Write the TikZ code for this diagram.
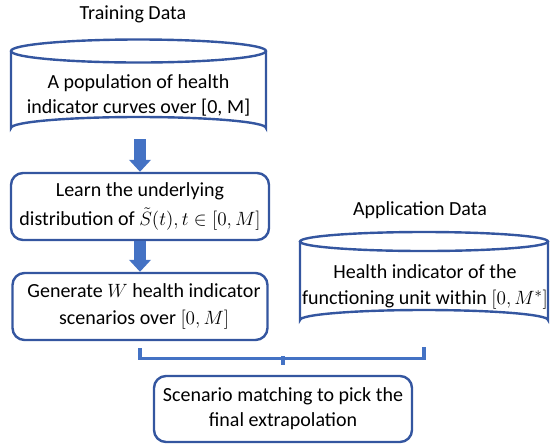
\documentclass[tikz,border=0pt]{standalone}
\usepackage{fontspec}
\setmainfont{Carlito}
\usetikzlibrary{arrows.meta,calc}

\definecolor{boxblue}{RGB}{52,86,160}
\definecolor{arrowblue}{RGB}{68,114,196}

\tikzset{every picture/.style={line width=0.75pt}}

\begin{document}
\begin{tikzpicture}[x=0.75pt,y=0.75pt,yscale=-1,xscale=1,
  cylline/.style={draw=boxblue,line width=1.8pt},
  roundbox/.style={draw=boxblue,line width=1.8pt,rounded corners=9pt,align=center,inner sep=0pt},
  plaintext/.style={align=center,inner sep=0pt},
  flowarrow/.style={draw=arrowblue,line width=9pt,-{Triangle[width=16pt,length=9pt]}},
  brace/.style={draw=arrowblue,line width=2.4pt}]
\useasboundingbox (0,0) rectangle (550,444);
\fontsize{15}{18.75}\selectfont

% Titles
\node[anchor=base] (traintitle) at (133,19) {Training Data};
\node[anchor=base] (apptitle) at (420,215) {Application Data};

% Training cylinder
\draw[cylline] (11,51) -- (11,128) arc[start angle=180, end angle=360, x radius=127.5, y radius=11] -- (266,51);
\draw[cylline] (138.5,51) ellipse [x radius=127.5, y radius=11.5];
\node[plaintext] (train) at (138.5,95) {A population of health\\indicator curves over [0, M]};
\coordinate (trainbot) at (140,139);

% Application cylinder
\draw[cylline] (300,241.5) -- (300,320) arc[start angle=180, end angle=360, x radius=124, y radius=10] -- (548,241.5);
\draw[cylline] (424,241.5) ellipse [x radius=124, y radius=9.5];
\node[plaintext] (app) at (425,287) {Health indicator of the\\[1pt]functioning unit within $[0,M^{*}]$};
\coordinate (appbot) at (424,330);

% Process boxes
\node[roundbox,minimum width=193.5pt,minimum height=50.25pt] (learn) at (140,206.5) {Learn the underlying\\[3pt]distribution of $\tilde{S}(t),t\in[0,M]$};
\node[roundbox,minimum width=191.25pt,minimum height=50.25pt] (gen) at (140,306.5) {\hspace{6pt}Generate $W$ health indicator\\[1pt]\hspace{6pt}scenarios over $[0,M]$};
\node[roundbox,minimum width=193.5pt,minimum height=49.5pt] (match) at (283,409) {Scenario matching to pick the\\final extrapolation};

% Connections
\draw[flowarrow] (trainbot) -- (learn.north);
\draw[flowarrow] (learn.south) -- (gen.north);

% Bracket
\draw[brace] ($(gen.south)+(0,7)$) -- ++(0,10) -| ($(appbot)+(0,17)$);
\draw[brace] ($(match.north)+(0,-10)$) -- ++(0,-9);

\end{tikzpicture}
\end{document}
